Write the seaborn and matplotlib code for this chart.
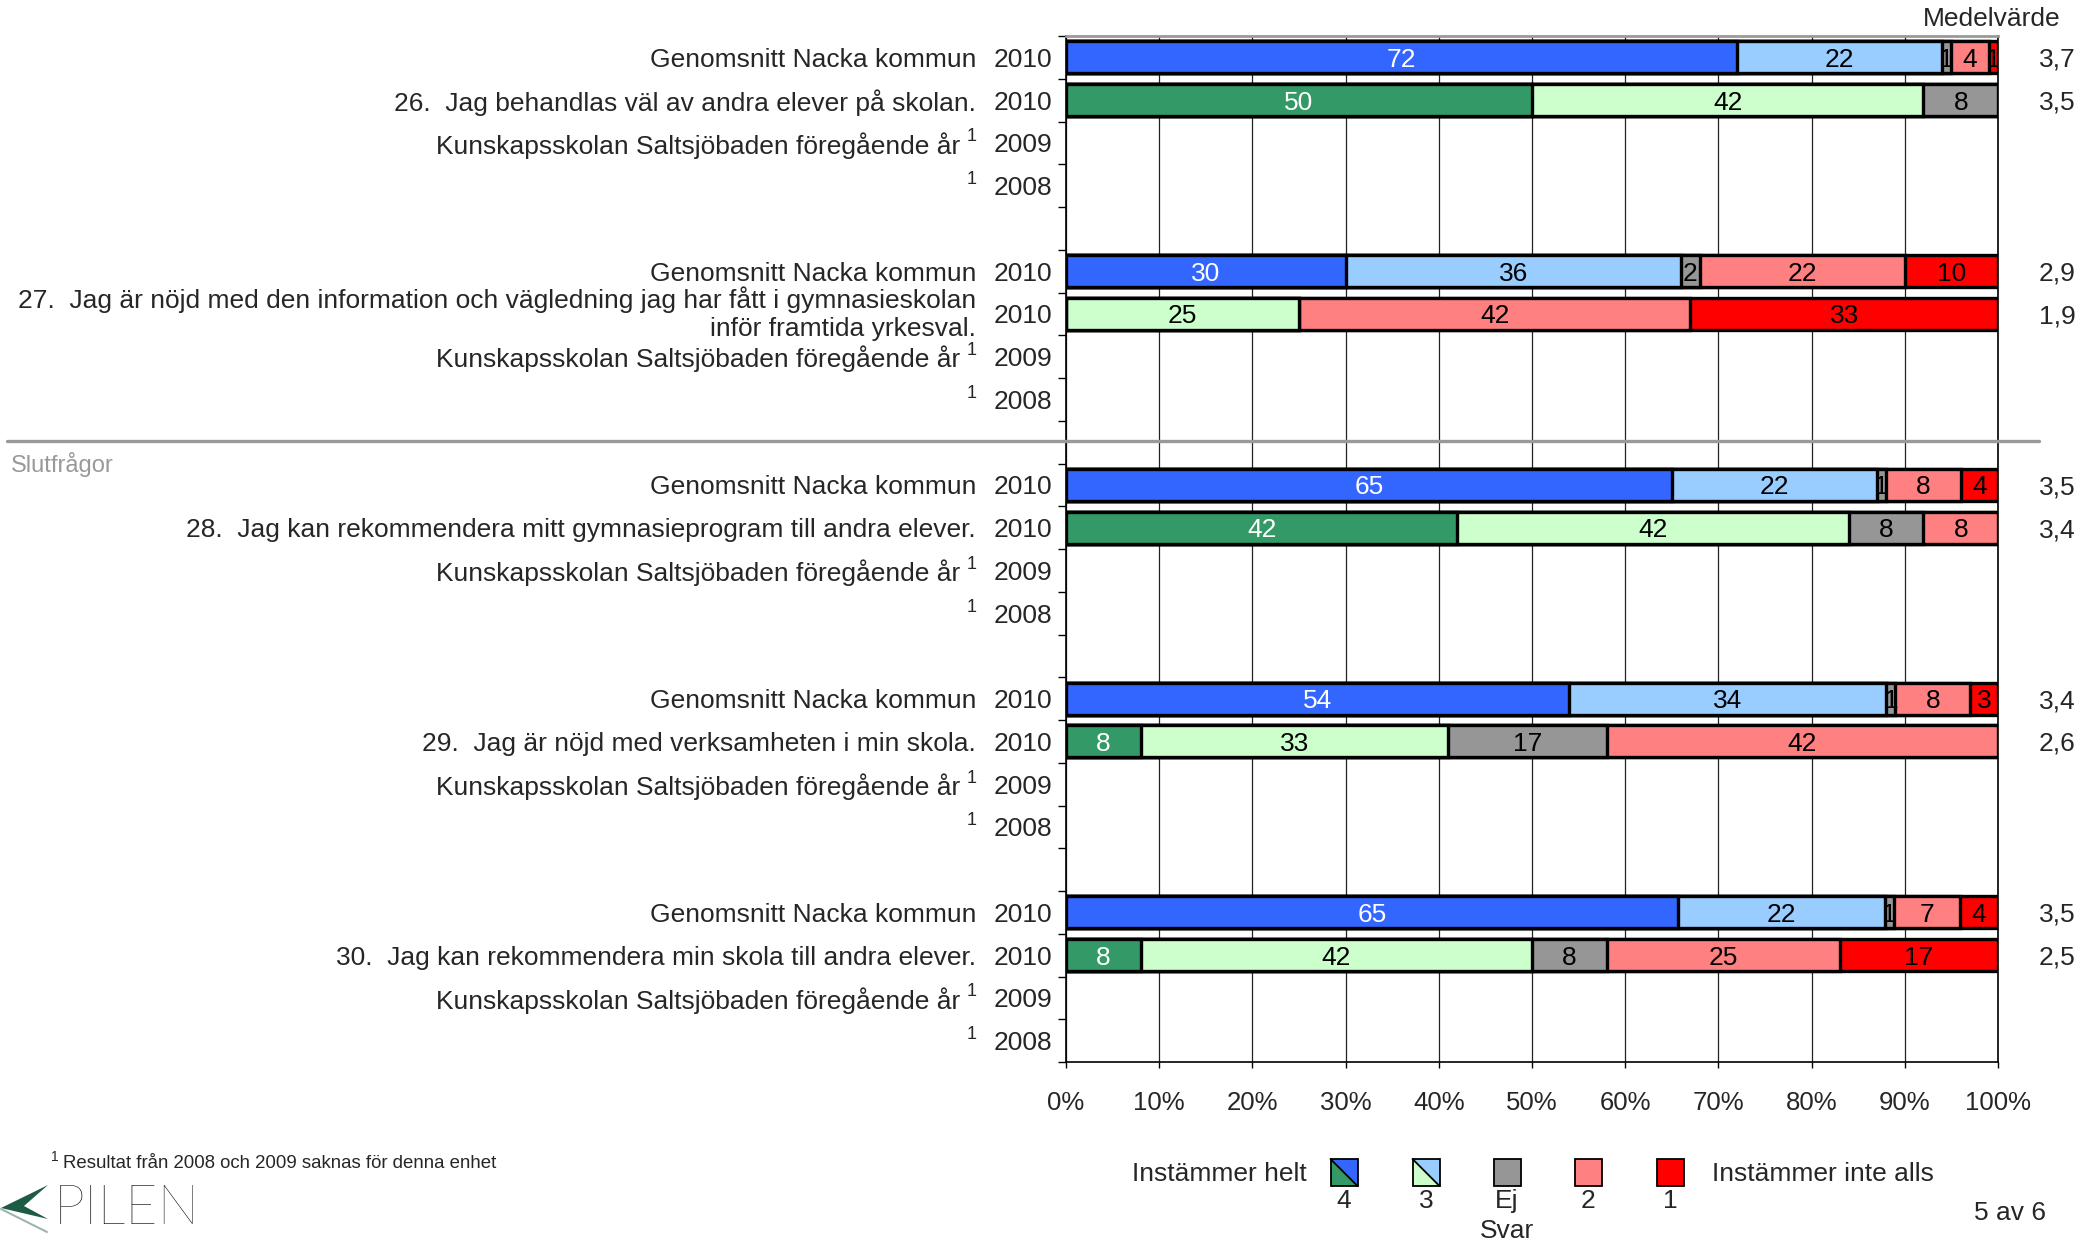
import numpy as np
import pandas as pd
import seaborn as sns
import matplotlib
matplotlib.use("Agg")
import matplotlib.pyplot as plt
import matplotlib.transforms as mtrans
from matplotlib.patches import Rectangle, Polygon
from matplotlib.lines import Line2D

# ---------------- data ----------------
questions = [
    "26.  Jag behandlas väl av andra elever på skolan.",
    "27.  Jag är nöjd med den information och vägledning jag har fått i gymnasieskolan\ninför framtida yrkesval.",
    "28.  Jag kan rekommendera mitt gymnasieprogram till andra elever.",
    "29.  Jag är nöjd med verksamheten i min skola.",
    "30.  Jag kan rekommendera min skola till andra elever.",
]
nacka_label = "Genomsnitt Nacka kommun"
prev_label = "Kunskapsskolan Saltsjöbaden föregående år"
note_mark = "1"
row_years = ["2010", "2010", "2009", "2008"]

# answer order: 4, 3, Ej svar, 2, 1
nacka_values = [
    [72, 22, 1, 4, 1],
    [30, 36, 2, 22, 10],
    [65, 22, 1, 8, 4],
    [54, 34, 1, 8, 3],
    [65, 22, 1, 7, 4],
]
school_values = [
    [50, 42, 8, 0, 0],
    [0, 25, 0, 42, 33],
    [42, 42, 8, 8, 0],
    [8, 33, 17, 42, 0],
    [8, 42, 8, 25, 17],
]
nacka_means = ["3,7", "2,9", "3,5", "3,4", "3,5"]
school_means = ["3,5", "1,9", "3,4", "2,6", "2,5"]

x_ticks = [0, 10, 20, 30, 40, 50, 60, 70, 80, 90, 100]
x_ticklabels = ["0%", "10%", "20%", "30%", "40%", "50%", "60%", "70%", "80%", "90%", "100%"]

legend_labels = ["4", "3", "Ej\nSvar", "2", "1"]
nacka_colors = ["#3366FF", "#99CCFF", "#969696", "#FF8080", "#FF0000"]
school_colors = ["#339966", "#CCFFCC", "#969696", "#FF8080", "#FF0000"]
text_colors_nacka = ["white", "black", "black", "black", "black"]
text_colors_school = ["white", "black", "black", "black", "black"]

# ---------------- build table ----------------
n_rows = 24
order = [f"r{i:02d}" for i in range(n_rows)]
records = []
for g in range(len(questions)):
    for series, vals, r in (("nacka", nacka_values[g], 0), ("school", school_values[g], 1)):
        total = float(sum(vals))
        cum = 0.0
        for k, v in enumerate(vals):
            start = cum
            cum += v / total * 100.0
            records.append(dict(row=order[g * 5 + r], rowi=g * 5 + r, series=series,
                                layer=k, value=v, start=start, end=cum))
df = pd.DataFrame(records)

# ---------------- figure ----------------
W, H = 2094, 1240
sns.set_theme(style="white")
plt.rcParams["font.family"] = ["Liberation Sans", "DejaVu Sans"]
fig = plt.figure(figsize=(W / 100, H / 100), dpi=100)
fig.patch.set_facecolor("white")

def fx(px):
    return px / W

def fy(py):
    return 1 - py / H

ax_left, ax_right, ax_top, ax_bot = 1066, 1998, 36, 1062
ax = fig.add_axes([fx(ax_left), fy(ax_bot), fx(ax_right - ax_left), (ax_bot - ax_top) / H])

FS = 19

# stacked bars: draw cumulative layers from widest to narrowest
for series, colors in (("nacka", nacka_colors), ("school", school_colors)):
    for k in reversed(range(5)):
        sub = df[(df.series == series) & (df.layer == k)]
        sns.barplot(data=sub, x="end", y="row", order=order, orient="h",
                    color=colors[k], saturation=1, edgecolor="black",
                    linewidth=2.4, width=0.75, errorbar=None, ax=ax, zorder=3)

# segment labels
for _, rw in df.iterrows():
    if rw.value <= 0:
        continue
    tc = (text_colors_nacka if rw.series == "nacka" else text_colors_school)[rw.layer]
    ax.text((rw.start + rw.end) / 2, rw.rowi, str(rw.value), ha="center", va="center_baseline",
            fontsize=FS, color=tc, zorder=5, clip_on=True)

ax.set_xlim(0, 100)
ax.set_ylim(n_rows - 0.5, -0.5)
ax.set_xlabel("")
ax.set_ylabel("")

# x axis
ax.set_xticks(x_ticks)
ax.set_xticklabels(x_ticklabels, fontsize=18.5)
ax.tick_params(axis="x", which="major", length=4, width=1, color="black", pad=17, bottom=True)
ax.xaxis.grid(True, color="#222222", linewidth=0.9, zorder=0)
ax.yaxis.grid(False)
ax.set_axisbelow(True)

# y axis: year labels
ytick_pos = []
ytick_lab = []
for g in range(len(questions)):
    for r in range(4):
        ytick_pos.append(g * 5 + r)
        ytick_lab.append(row_years[r])
ax.set_yticks(ytick_pos)
ax.set_yticklabels(ytick_lab, fontsize=FS)
ax.tick_params(axis="y", which="major", length=0, pad=10)
ax.set_yticks(np.arange(-0.5, n_rows, 1), minor=True)
ax.tick_params(axis="y", which="minor", length=6, width=1, color="black", left=True)

for s in ("left", "bottom", "right"):
    ax.spines[s].set_visible(True)
    ax.spines[s].set_color("black")
    ax.spines[s].set_linewidth(1.2)
ax.spines["top"].set_visible(True)
ax.spines["top"].set_color("#999999")
ax.spines["top"].set_linewidth(2)

# descriptive labels and mean values
tr = mtrans.blended_transform_factory(fig.transFigure, ax.transData)
sup_tr = tr + mtrans.ScaledTranslation(0, 8 / 100, fig.dpi_scale_trans)
for g in range(len(questions)):
    base = g * 5
    fig.text(fx(976), base + 0, nacka_label, transform=tr, ha="right", va="center_baseline", fontsize=FS)
    if "\n" in questions[g]:
        fig.text(fx(976), base + 1, questions[g], transform=tr, ha="right", va="center",
                 fontsize=FS, multialignment="right", linespacing=1.2)
    else:
        fig.text(fx(976), base + 1, questions[g], transform=tr, ha="right", va="center_baseline", fontsize=FS)
    fig.text(fx(960), base + 2, prev_label, transform=tr, ha="right", va="center_baseline", fontsize=FS)
    fig.text(fx(977), base + 2, note_mark, transform=sup_tr, ha="right", va="center_baseline", fontsize=13)
    fig.text(fx(977), base + 3, note_mark, transform=sup_tr, ha="right", va="center_baseline", fontsize=13)
    fig.text(fx(2057), base + 0, nacka_means[g], transform=tr, ha="center", va="center_baseline", fontsize=FS)
    fig.text(fx(2057), base + 1, school_means[g], transform=tr, ha="center", va="center_baseline", fontsize=FS)

fig.text(fx(1992), fy(19), "Medelvärde", ha="center", va="center", fontsize=FS)

# section separator
fig.add_artist(Line2D([fx(7), fx(2039)], [fy(441), fy(441)], color="#999999", linewidth=2.4))
fig.text(fx(11), fy(464), "Slutfrågor", ha="left", va="center", fontsize=17, color="#999999")

# legend
fig.text(fx(1307), fy(1174), "Instämmer helt", ha="right", va="center", fontsize=FS)
fig.text(fx(1712), fy(1174), "Instämmer inte alls", ha="left", va="center", fontsize=FS)
box_cx = [1344, 1426, 1507, 1588, 1670]
bw, bt, bb = 27, 1159, 1186
for i, cx in enumerate(box_cx):
    x0, x1 = cx - bw / 2, cx + bw / 2
    if nacka_colors[i] != school_colors[i]:
        fig.add_artist(Polygon([(fx(x0), fy(bt)), (fx(x1), fy(bt)), (fx(x1), fy(bb))],
                               closed=True, facecolor=nacka_colors[i], edgecolor="none",
                               transform=fig.transFigure))
        fig.add_artist(Polygon([(fx(x0), fy(bt)), (fx(x0), fy(bb)), (fx(x1), fy(bb))],
                               closed=True, facecolor=school_colors[i], edgecolor="none",
                               transform=fig.transFigure))
        fig.add_artist(Line2D([fx(x0), fx(x1)], [fy(bt), fy(bb)], color="black", linewidth=1.3))
        fig.add_artist(Rectangle((fx(x0), fy(bb)), fx(bw), (bb - bt) / H, facecolor="none",
                                 edgecolor="black", linewidth=1.3, transform=fig.transFigure))
    else:
        fig.add_artist(Rectangle((fx(x0), fy(bb)), fx(bw), (bb - bt) / H, facecolor=nacka_colors[i],
                                 edgecolor="black", linewidth=1.3, transform=fig.transFigure))
    fig.text(fx(cx), fy(1189), legend_labels[i], ha="center", va="top", fontsize=FS, linespacing=1.3)

fig.text(fx(2046), fy(1213), "5 av 6", ha="right", va="center", fontsize=FS)

# footnote
fig.text(fx(51), fy(1157), note_mark, ha="left", va="center", fontsize=10)
fig.text(fx(63), fy(1164), "Resultat från 2008 och 2009 saknas för denna enhet",
         ha="left", va="center", fontsize=13.4)

# logo
fig.add_artist(Polygon([(fx(48), fy(1185)), (fx(1), fy(1208)), (fx(48), fy(1219)), (fx(24), fy(1206))],
                       closed=True, facecolor="#1E5B45", edgecolor="none", transform=fig.transFigure))
fig.add_artist(Line2D([fx(1), fx(47)], [fy(1209), fy(1232)], color="#9FB5AA", linewidth=1.5))
fig.text(fx(54), fy(1209), "PILEN", ha="left", va="center", fontsize=40,
         family=["Lato", "DejaVu Sans"], fontweight="light", color="black")

fig.savefig("out.png", dpi=100)
